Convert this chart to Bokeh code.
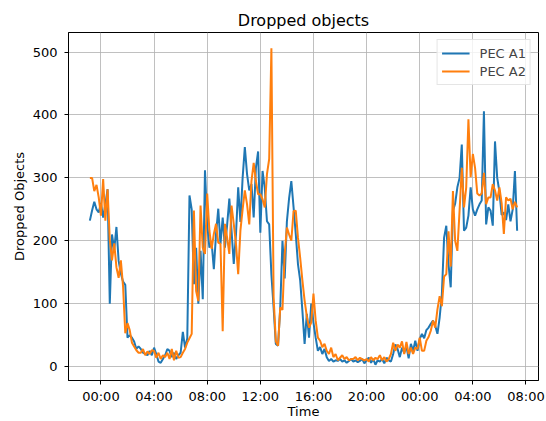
import pandas as pd
from bokeh.plotting import figure
from bokeh.models import Range1d, FixedTicker, Legend, LegendItem
from bokeh.embed import file_html
from bokeh.resources import INLINE

# 10-minute samples, 23:10 on day one to 07:20 on day three
START = "2021-03-01 23:10"
STEP = "10min"

# Dropped objects per interval, grouped by hour of day
PEC_A1 = [
    232, 248, 262, 250, 245,                 # 23:10-23:50
    260, 237, 258, 282, 100, 210,            # 00
    186, 222, 168, 148, 135, 130,            # 01
    46, 50, 46, 40, 28, 32,                  # 02
    28, 22, 20, 18, 25, 18,                  # 03
    30, 20, 8, 6, 12, 18,                    # 04
    28, 25, 15, 22, 12, 18,                  # 05
    22, 55, 30, 45, 272, 250,                # 06
    131, 189, 100, 184, 107, 312,            # 07
    227, 189, 197, 155, 211, 251,            # 08
    195, 237, 189, 225, 267, 216,            # 09
    163, 210, 285, 230, 300, 349,            # 10
    306, 280, 290, 237, 316, 342,            # 11
    213, 311, 284, 231, 226, 146,            # 12
    94, 36, 33, 94, 200, 140,                # 13
    231, 268, 295, 254, 211, 163,            # 14
    137, 89, 36, 84, 46, 100,                # 15
    70, 46, 25, 31, 20, 28,                  # 16
    15, 9, 12, 8, 10, 9,                     # 17
    12, 8, 10, 6, 9, 12,                     # 18
    8, 10, 7, 9, 12, 5,                      # 19
    10, 14, 6, 12, 3, 10,                    # 20
    8, 12, 5, 14, 10, 8,                     # 21
    20, 35, 28, 15, 30, 22,                  # 22
    32, 13, 36, 25, 41, 25,                  # 23
    44, 52, 45, 58, 62, 68,                  # 00
    73, 65, 52, 78, 115, 205,                # 01
    224, 163, 126, 248, 259, 285,            # 02
    300, 353, 216, 221, 240, 285,            # 03
    250, 240, 250, 258, 264, 406,            # 04
    226, 253, 248, 224, 358, 300,            # 05
    278, 241, 245, 233, 258, 231,            # 06
    250, 311, 216,                           # 07:00-07:20
]

PEC_A2 = [
    300, 300, 279, 289, 269,                 # 23:10-23:50
    240, 298, 232, 282, 202, 169,            # 00
    196, 158, 141, 169, 127, 53,             # 01
    69, 58, 38, 32, 26, 22,                  # 02
    22, 28, 18, 24, 20, 26,                  # 03
    25, 14, 22, 12, 18, 15,                  # 04
    22, 12, 28, 10, 25, 14,                  # 05
    15, 22, 28, 38, 45, 52,                  # 06
    248, 120, 104, 256, 189, 179,            # 07
    275, 216, 187, 211, 227, 197,            # 08
    195, 56, 227, 205, 179, 256,             # 09
    227, 195, 147, 216, 250, 280,            # 10
    258, 226, 295, 324, 295, 274,            # 11
    274, 266, 253, 306, 330, 506,            # 12
    110, 40, 33, 94, 90, 179,                # 13
    221, 210, 200, 247, 248, 205,            # 14
    173, 137, 105, 80, 62, 70,               # 15
    116, 73, 46, 41, 31, 36,                 # 16
    25, 20, 30, 15, 20, 10,                  # 17
    14, 18, 12, 15, 10, 12,                  # 18
    12, 15, 10, 14, 12, 10,                  # 19
    12, 8, 15, 10, 14, 12,                   # 20
    18, 10, 15, 8, 12, 20,                   # 21
    38, 25, 35, 30, 40, 20,                  # 22
    39, 20, 30, 20, 30, 28,                  # 23
    46, 25, 25, 41, 47, 57,                  # 00
    73, 62, 91, 112, 96, 143,                # 01
    147, 215, 159, 279, 200, 184,            # 02
    248, 316, 253, 285, 393, 301,            # 03
    338, 316, 275, 272, 275, 308,            # 04
    258, 269, 269, 290, 280, 264,            # 05
    285, 260, 211, 269, 264, 267,            # 06
    250, 262, 253,                           # 07:00-07:20
]

TICK_TIMES = [
    "2021-03-02 00:00", "2021-03-02 04:00", "2021-03-02 08:00",
    "2021-03-02 12:00", "2021-03-02 16:00", "2021-03-02 20:00",
    "2021-03-03 00:00", "2021-03-03 04:00", "2021-03-03 08:00",
]
TICK_LABELS = ["00:00", "04:00", "08:00", "12:00", "16:00", "20:00",
               "00:00", "04:00", "08:00"]
Y_TICKS = [0, 100, 200, 300, 400, 500]

times = pd.date_range(START, periods=len(PEC_A1), freq=STEP)

def to_ms(ts):
    return pd.Timestamp(ts).value / 1e6

t0, t1 = to_ms(times[0]), to_ms(times[-1])
xpad = 0.05 * (t1 - t0)
vmin = min(min(PEC_A1), min(PEC_A2))
vmax = max(max(PEC_A1), max(PEC_A2))
ypad = 0.05 * (vmax - vmin)

FONT = "DejaVu Sans"

p = figure(
    width=546, height=421,
    x_axis_type="datetime",
    x_range=Range1d(t0 - xpad, t1 + xpad),
    y_range=Range1d(vmin - ypad, vmax + ypad),
    output_backend="svg", toolbar_location=None,
    min_border_left=68, min_border_right=8,
    min_border_top=32, min_border_bottom=40,
    title="Dropped objects",
)
p.background_fill_color = "white"
p.border_fill_color = "white"
p.outline_line_color = "black"
p.outline_line_width = 1

p.title.align = "center"
p.title.text_font = FONT
p.title.text_font_size = "16px"
p.title.text_font_style = "normal"
p.title.text_color = "black"
p.title.standoff = 6

tick_ms = [to_ms(t) for t in TICK_TIMES]
p.xaxis.ticker = FixedTicker(ticks=tick_ms)
p.xaxis.major_label_overrides = {ms: lab for ms, lab in zip(tick_ms, TICK_LABELS)}
p.yaxis.ticker = FixedTicker(ticks=Y_TICKS)

for ax in (p.xaxis, p.yaxis):
    ax.axis_line_color = "black"
    ax.major_tick_in = 0
    ax.major_tick_out = 4
    ax.minor_tick_line_color = None
    ax.major_tick_line_color = "black"
    ax.major_label_text_font = FONT
    ax.major_label_text_font_size = "13px"
    ax.major_label_text_color = "black"
    ax.axis_label_text_font = FONT
    ax.axis_label_text_font_size = "13px"
    ax.axis_label_text_font_style = "normal"
    ax.axis_label_text_color = "black"

p.xaxis.axis_label = "Time"
p.yaxis.axis_label = "Dropped Objects"
p.xaxis.major_label_standoff = 4
p.xaxis.axis_label_standoff = -3
p.yaxis.major_label_standoff = 7
p.yaxis.axis_label_standoff = 3

p.xgrid.ticker = p.xaxis.ticker
p.ygrid.ticker = p.yaxis.ticker
for g in (p.xgrid, p.ygrid):
    g.grid_line_color = "#b0b0b0"
    g.grid_line_width = 1
    g.grid_line_alpha = 0.8

r1 = p.line(times, PEC_A1, line_color="#1f77b4", line_width=2)
r2 = p.line(times, PEC_A2, line_color="#ff7f0e", line_width=2)

legend = Legend(
    items=[LegendItem(label="PEC A1", renderers=[r1]),
           LegendItem(label="PEC A2", renderers=[r2])],
    location="top_right",
    margin=7, padding=4, spacing=0,
    glyph_width=28, glyph_height=18, label_height=18,
    label_standoff=10,
    label_text_font=FONT, label_text_font_size="13px",
    border_line_color="#cccccc", border_line_width=1,
    background_fill_color="white", background_fill_alpha=0.8,
)
p.add_layout(legend)

open("out.html", "w").write(file_html(p, INLINE))
